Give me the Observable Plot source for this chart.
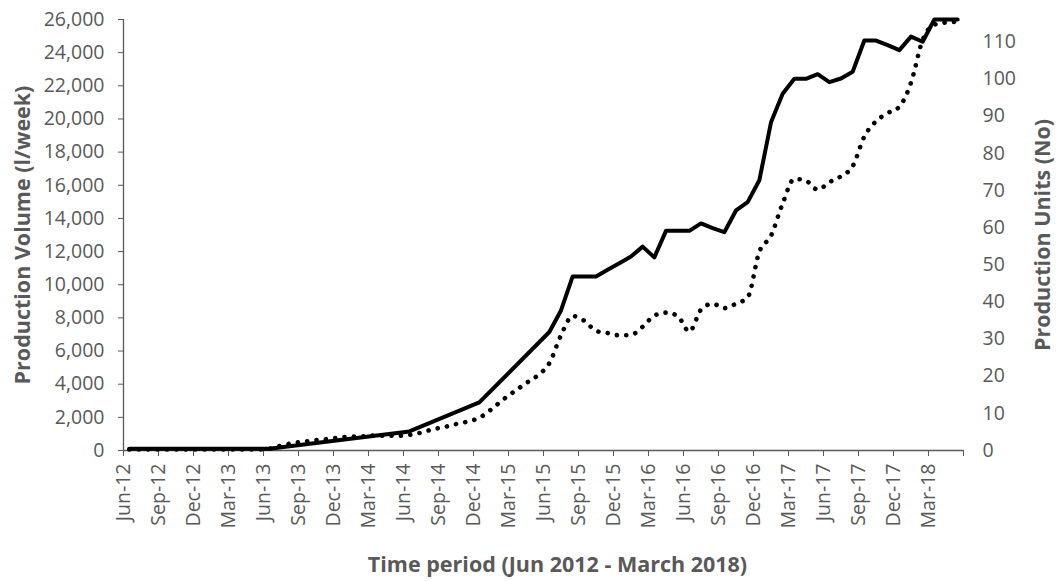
<!DOCTYPE html>
<html><head><meta charset="utf-8">
<script src="https://cdn.jsdelivr.net/npm/d3@7"></script>
<script src="https://cdn.jsdelivr.net/npm/@observablehq/plot@0.6"></script>
<style>body{margin:0;background:#fff}</style>
</head><body><div id="chart"></div>
<script>
// Monthly values, index 0 = Jun-12 ... 71 = May-18 (null = no data point)
const volume = [
  100,100,100,100,100,100,100,100,100,100,100,100,100,
  null,null,null,null,null,null,null,null,null,null,null,
  1150,
  null,null,null,null,null,
  2900,
  null,null,null,null,null,
  7150,8450,10500,10500,10500,10900,11300,11700,12300,11650,
  13250,13250,13250,13700,13420,13170,14480,14980,16300,19800,
  21520,22420,22420,22700,22220,22440,22850,24730,24730,24450,
  24150,24970,24660,26000,26000,26000
];
const units = [
  0.3,0.3,0.3,0.3,0.3,0.3,0.3,0.3,0.3,0.3,0.3,0.3,
  0.5,1.3,2.0,2.4,2.8,3.1,3.5,3.7,3.8,4.0,4.0,4.0,
  4.2,4.8,5.7,6.3,7.1,7.8,8.8,11.0,13.6,15.9,18.1,20.2,
  23.5,31.0,36.2,34.9,32.2,31.6,31.0,31.1,33.3,36.3,37.1,36.2,
  32.0,37.9,39.5,38.3,39.5,41.2,53.5,57.8,66.5,73.1,72.6,70.2,
  72.2,73.8,76.5,84.5,88.6,90.8,92.5,99.0,110.5,114.6,115.2,115.4
];
const tickLabels = ["Jun-12","Sep-12","Dec-12","Mar-13","Jun-13","Sep-13","Dec-13","Mar-14",
  "Jun-14","Sep-14","Dec-14","Mar-15","Jun-15","Sep-15","Dec-15","Mar-16","Jun-16","Sep-16",
  "Dec-16","Mar-17","Jun-17","Sep-17","Dec-17","Mar-18"];
const volumeTicks = [0,2000,4000,6000,8000,10000,12000,14000,16000,18000,20000,22000,24000,26000];
const unitTicks = [0,10,20,30,40,50,60,70,80,90,100,110];
const volMax = 26000, unitMax = 116;
const k = volMax / unitMax;

const volData = volume.map((v, i) => ({m: i + 0.5, v})).filter(d => d.v != null);
const unitData = units.map((u, i) => ({m: i + 0.5, v: u * k}));
const xTicks = d3.range(0, 73, 3);
const grey = "#595959";
const fs = 19.5;

const plot = Plot.plot({
  width: 1056, height: 581,
  marginLeft: 123, marginRight: 93, marginTop: 19, marginBottom: 131,
  style: {fontFamily: "'Open Sans', sans-serif", fontSize: fs + "px", color: grey, background: "#fff"},
  x: {domain: [0, 72]},
  y: {domain: [0, volMax]},
  marks: [
    Plot.axisY({ticks: volumeTicks, tickFormat: d3.format(","), tickSize: 5, tickPadding: 14, label: null, fontSize: fs}),
    Plot.axisY({anchor: "right", ticks: unitTicks.map(u => u * k), tickFormat: d => String(Math.round(d / k)), tickSize: 0, tickPadding: 19, label: null, fontSize: fs}),
    Plot.axisX({ticks: xTicks, tickFormat: d => tickLabels[d / 3] ?? "", tickRotate: -90, tickSize: 6, tickPadding: 7, label: null, fontSize: fs}),
    Plot.ruleX([0], {stroke: grey, strokeWidth: 1.3}),
    Plot.ruleY([0], {stroke: grey, strokeWidth: 1.3}),
    Plot.line(unitData, {x: "m", y: "v", curve: "monotone-x", stroke: "black", strokeWidth: 4.6, strokeDasharray: "0.1 9.3", strokeLinecap: "round"}),
    Plot.line(volData, {x: "m", y: "v", stroke: "black", strokeWidth: 4, strokeLinejoin: "round"}),
    Plot.text(["Production Volume (l/week)"], {text: d => d, frameAnchor: "left", dx: -100, rotate: -90, textAnchor: "middle", lineAnchor: "middle", fontWeight: "bold", fontSize: 21.5, fill: grey}),
    Plot.text(["Production Units (No)"], {text: d => d, frameAnchor: "right", dx: 80, rotate: -90, textAnchor: "middle", lineAnchor: "middle", fontWeight: "bold", fontSize: 21.5, fill: grey}),
    Plot.text(["Time period (Jun 2012 - March 2018)"], {text: d => d, frameAnchor: "bottom", dx: 14, dy: 115, textAnchor: "middle", lineAnchor: "middle", fontWeight: "bold", fontSize: 21.5, fill: grey})
  ]
});
document.getElementById("chart").appendChild(plot);
</script>
</body></html>
